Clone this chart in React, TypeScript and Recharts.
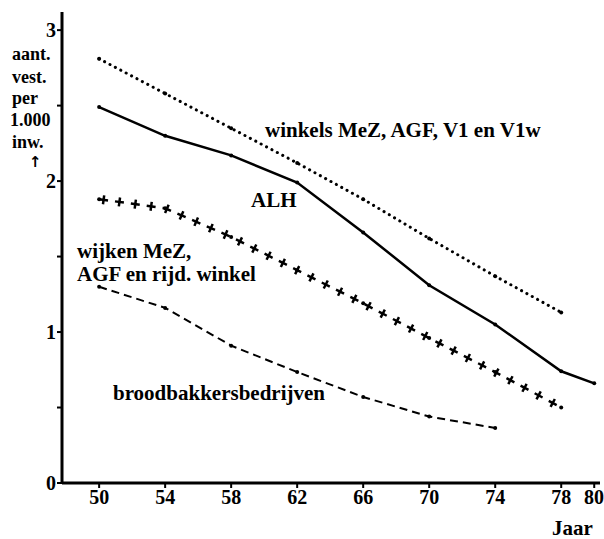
import React from "react"
import { LineChart, Line, XAxis, YAxis } from "recharts"

const years = [50, 54, 58, 62, 66, 70, 74, 78, 80]
const winkels = [2.81, 2.58, 2.35, 2.12, 1.88, 1.62, 1.37, 1.13, null]
const alh = [2.49, 2.3, 2.17, 1.99, 1.66, 1.31, 1.05, 0.74, 0.66]
const wijken = [1.88, 1.82, 1.63, 1.41, 1.19, 0.96, 0.735, 0.5, null]
const brood = [1.3, 1.16, 0.91, 0.735, 0.57, 0.44, 0.365, null, null]
const yTicks = [0, 0.5, 1, 1.5, 2, 2.5, 3]

const data = years.map((year, i) => ({
  year,
  winkels: winkels[i],
  alh: alh[i],
  wijken: wijken[i],
  brood: brood[i],
}))

const FONT = "Liberation Serif"

const dot = { r: 2, fill: "#000", stroke: "#000", strokeWidth: 0 }

const tickStyle = { fontFamily: FONT, fontWeight: 700, fontSize: 20, fill: "#000" }

export default function App() {
  return (
    <div style={{ position: "absolute", left: 0, top: 0, width: 604, height: 539, background: "#fff" }}>
      <LineChart
        width={604}
        height={539}
        data={data}
        margin={{ top: 12, right: 4, left: 0, bottom: 0 }}
      >
        <XAxis
          dataKey="year"
          type="number"
          domain={[47.75, 80.35]}
          ticks={years}
          allowDataOverflow
          height={56}
          axisLine={{ stroke: "#000", strokeWidth: 3 }}
          tickLine={{ stroke: "#000", strokeWidth: 2 }}
          tickSize={5}
          tickMargin={2}
          tick={tickStyle}
        />
        <YAxis
          type="number"
          domain={[0, 3.12]}
          ticks={yTicks}
          allowDataOverflow
          width={62}
          axisLine={{ stroke: "#000", strokeWidth: 3 }}
          tickLine={{ stroke: "#000", strokeWidth: 2 }}
          tickSize={5}
          tickMargin={1}
          tickFormatter={(v: number) => (Number.isInteger(v) ? String(v) : "")}
          tick={tickStyle}
        />
        {/* winkels: dotted */}
        <Line
          dataKey="winkels"
          stroke="#000"
          strokeWidth={3}
          strokeDasharray="0.1 6"
          strokeLinecap="round"
          dot={dot}
          activeDot={false}
          isAnimationActive={false}
        />
        {/* ALH: solid */}
        <Line
          dataKey="alh"
          stroke="#000"
          strokeWidth={2.5}
          dot={dot}
          activeDot={false}
          isAnimationActive={false}
        />
        {/* wijken: plus signs, built from two dashed strokes */}
        <Line
          dataKey="wijken"
          stroke="#000"
          strokeWidth={2.5}
          strokeDasharray="9 7"
          dot={dot}
          activeDot={false}
          isAnimationActive={false}
        />
        <Line
          dataKey="wijken"
          stroke="#000"
          strokeWidth={9}
          strokeDasharray="2.5 13.5"
          strokeDashoffset={12.75}
          dot={false}
          activeDot={false}
          isAnimationActive={false}
        />
        {/* broodbakkers: dashed */}
        <Line
          dataKey="brood"
          stroke="#000"
          strokeWidth={2}
          strokeDasharray="8 5"
          dot={dot}
          activeDot={false}
          isAnimationActive={false}
        />
      </LineChart>
      <svg
        width={604}
        height={539}
        style={{ position: "absolute", left: 0, top: 0, pointerEvents: "none" }}
        fontFamily={FONT}
        fontWeight={700}
        fontSize={21}
        fill="#000"
      >
        <text x={265} y={137}>winkels MeZ, AGF, V1 en V1w</text>
        <text x={251} y={207}>ALH</text>
        <text x={77} y={258}>wijken MeZ,</text>
        <text x={77} y={281}>AGF en rijd. winkel</text>
        <text x={113} y={400}>broodbakkersbedrijven</text>
        <text x={552} y={535}>Jaar</text>
        <g fontSize={18}>
          <text x={12} y={60}>aant.</text>
          <text x={12} y={83}>vest.</text>
          <text x={12} y={104}>per</text>
          <text x={10} y={126}>1.000</text>
          <text x={12} y={148}>inw.</text>
          <text x={29} y={167} fontSize={15} fontFamily="DejaVu Sans" fill="#000">↑</text>
        </g>
      </svg>
    </div>
  )
}
